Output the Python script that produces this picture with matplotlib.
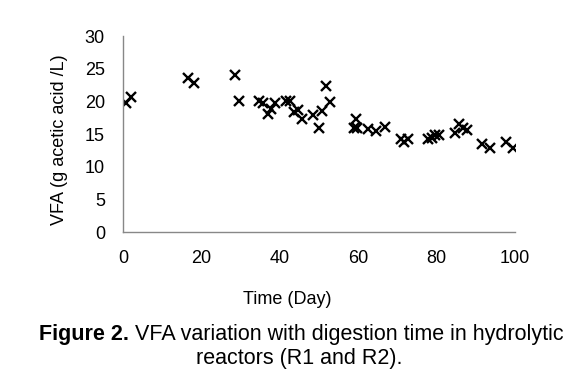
import matplotlib.pyplot as plt

plt.rcParams['font.family'] = ['Liberation Sans', 'DejaVu Sans']

# VFA readings (both reactors in one series)
day = [0.9, 2.0, 16.7, 18.0, 28.6, 29.7, 34.8, 35.8, 36.9, 37.8, 38.8, 41.6, 42.6,
       43.6, 44.6, 45.7, 48.4, 49.9, 50.8, 51.8, 52.9, 58.8, 59.5, 59.8, 62.5,
       64.6, 66.8, 71.0, 71.6, 72.7, 77.8, 78.7, 79.5, 80.6, 84.7, 85.8, 86.6,
       87.8, 91.5, 93.6, 97.7, 99.6]
vfa = [19.7, 20.6, 23.6, 22.8, 24.1, 20.1, 20.0, 19.7, 18.0, 18.9, 19.7, 20.1, 20.0,
       18.3, 18.7, 17.3, 17.9, 15.9, 18.6, 22.4, 19.9, 15.9, 17.3, 16.0, 15.7,
       15.4, 16.1, 14.3, 13.8, 14.2, 14.3, 14.4, 14.9, 14.9, 15.2, 16.5, 16.0,
       15.6, 13.5, 12.9, 13.8, 12.8]

x_ticks = [0, 20, 40, 60, 80, 100]
y_ticks = [0, 5, 10, 15, 20, 25, 30]

fig = plt.figure(figsize=(5.8, 3.83), dpi=100)
ax = fig.add_axes([0.212, 0.394, 0.676, 0.512])

ax.plot(day, vfa, linestyle='none', marker='x', color='black',
        markersize=7, markeredgewidth=1.7)

ax.set_xlim(0, 100)
ax.set_ylim(0, 30)
ax.set_xticks(x_ticks)
ax.set_yticks(y_ticks)
ax.tick_params(length=0, labelsize=13, pad=13)

for side in ['top', 'right']:
    ax.spines[side].set_visible(False)
for side in ['left', 'bottom']:
    ax.spines[side].set_color('#888888')
    ax.spines[side].set_linewidth(1.0)

# the x label sits left of the axes centre in the original
ax.set_xlabel('Time (Day)', fontsize=13, labelpad=17, x=0.42)
ax.set_ylabel('VFA (g acetic acid /L)', fontsize=13, labelpad=12, y=0.47)

# caption, bold lead-in followed by normal text
t1 = fig.text(0.067, 0.112, 'Figure 2.', fontsize=15.5, fontweight='bold',
              va='baseline')
ax.annotate(' VFA variation with digestion time in hydrolytic', xy=(1, 0),
            xycoords=t1, fontsize=15.5, va='bottom')
fig.text(0.516, 0.05, 'reactors (R1 and R2).', fontsize=15.5,
         ha='center', va='baseline')

fig.savefig('out.png', dpi=100)
